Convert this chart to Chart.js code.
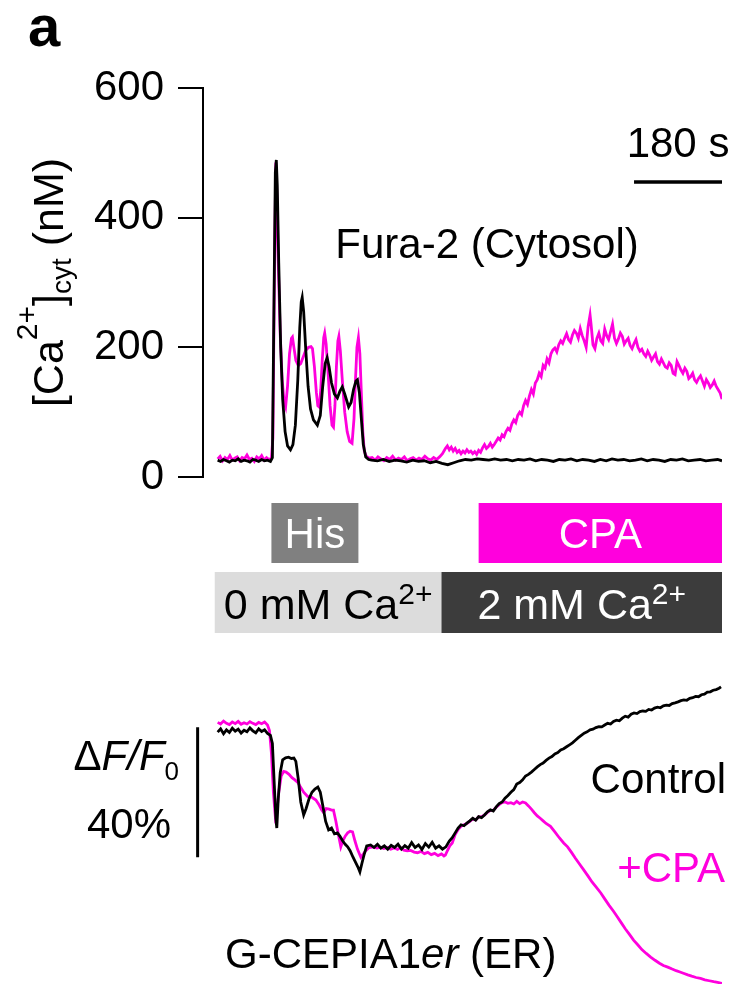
<!DOCTYPE html>
<html><head><meta charset="utf-8">
<script src="https://cdn.jsdelivr.net/npm/chart.js@4.4.1/dist/chart.umd.min.js"></script>
<style>
html,body{margin:0;padding:0;background:#fff;width:734px;height:984px;overflow:hidden;}
#cTop{position:absolute;left:0;top:0;}
#cBot{position:absolute;left:0;top:640px;}
</style></head><body>
<canvas id="cTop" width="734" height="640"></canvas>
<canvas id="cBot" width="734" height="344"></canvas>
<script>
// ---------- DATA (time in s) ----------
const yTicks = [0, 200, 400, 600];
const scaleBarSeconds = 180;
const scaleBarPercent = 40;

// Fura-2 cytosolic Ca2+ (nM), control (black)
const furaTimeControl = [0,6,12,18,24,30,36,42,48,54,60,66,72,78,84,90,96,102,108,
 112,115,118,120,122,125,129,133,138,143,149,154,159,164,168,171,173,176,180,185,190,196,204,210,215,220,224,228,233,239,245,250,255,260,268,273,278,283,286,290,294,298,303,309,315,
 327,339,351,363,375,387,399,411,423,435,447,459,471,483,495,507,519,531,543,555,567,579,591,603,615,627,639,651,663,675,687,699,711,723,735,747,759,771,783,795,807,819,831,843,855,867,879,891,903,915,927,939,951,963,975,987,999,1011,1023,1032];
const furaControl = [26,24,27,25,23,26,25,28,24,26,25,23,27,26,24,27,25,26,24,
 30,250,470,489,450,330,200,120,70,48,42,50,80,150,230,270,277,255,200,140,105,88,80,95,140,175,184,170,145,128,122,132,139,128,108,115,135,148,150,130,90,50,31,27,26,
 25,27,24,26,25,23,26,24,25,22,24,21,19,22,25,27,26,28,27,26,28,26,27,25,27,26,28,25,27,26,24,27,26,28,25,27,26,24,27,25,28,26,27,25,26,28,25,27,26,24,27,26,28,25,26,27,25,26,27,25];

// Fura-2 cytosolic Ca2+ (nM), +CPA (magenta)
const furaTimeCPA = [0,5,10,15,20,25,30,35,40,45,50,55,60,65,70,75,80,85,90,95,100,105,110,
 113,116,119,121,124,128,132,136,139,143,147,151,153,156,160,165,170,175,180,186,191,194,198,202,205,208,211,214,217,219,222,226,230,234,237,240,243,246,248,251,255,260,265,270,275,279,282,285,288,291,294,297,300,304,310,
 316,322,328,334,340,346,352,358,364,370,376,382,388,394,400,406,412,418,424,430,436,442,448,454,460,466,470,474,478,482,486,490,494,498,502,506,510,514,518,522,526,530,534,538,542,546,550,554,558,562,566,570,574,578,582,586,590,594,598,602,606,610,614,618,622,626,630,634,638,642,646,650,654,658,662,666,670,674,678,682,686,690,694,698,702,706,710,714,718,722,726,730,734,738,742,746,750,754,758,762,764,768,772,776,780,784,788,792,796,800,804,808,812,816,820,824,828,832,836,840,844,848,852,856,860,864,868,872,876,880,884,888,892,896,900,904,908,912,916,920,924,928,932,936,940,944,948,952,956,960,964,968,972,976,980,984,988,992,996,1000,1004,1008,1012,1016,1020,1024,1028,1032];
const furaCPA = [28,32,25,30,27,33,26,29,31,25,30,28,34,27,29,24,31,28,33,26,30,27,29,
 60,300,485,440,330,220,150,115,108,140,190,214,216,200,180,172,175,185,195,200,201,198,170,130,110,108,135,180,215,222,205,160,110,80,77,110,170,210,217,195,150,100,70,55,52,90,150,200,215,190,130,70,40,32,29,
 30,26,31,28,25,30,27,32,26,29,27,31,25,28,30,26,29,27,32,28,26,30,27,31,36,44,48,42,46,40,44,38,41,36,40,37,42,38,40,36,39,35,41,38,45,50,44,47,52,46,50,55,60,57,65,62,70,75,72,82,88,84,95,100,96,110,118,112,125,135,128,145,150,160,155,172,168,182,176,
 190,196,199,193,204,210,206,214,221,212,
 208,219,226,222,214,229,218,210,200,232,
 250,236,204,198,214,222,210,206,228,218,
 212,224,236,214,206,213,222,217,205,210,
 214,203,198,206,212,200,194,197,190,186,
 194,188,180,185,190,178,174,182,176,170,
 168,176,172,160,158,178,172,165,160,168,
 163,152,155,160,150,146,152,156,148,140,
 150,145,138,142,148,140,135,130,120];

// G-CEPIA1er ER signal (% dF/F0 relative to baseline), control (black)
const erTimeControl = [0,6,12,18,24,30,36,42,48,54,60,66,72,78,84,90,96,102,108,112,116,119,121,124,128,133,139,145,151,156,160,165,170,176,181,187,193,199,205,210,215,221,227,233,239,245,250,256,261,266,271,277,282,287,291,295,300,305,313,320,327,334,341,348,355,362,369,376,383,390,397,404,411,418,425,432,439,446,453,460,467,474,480,486,492,498,504,510,516,522,528,534,540,546,552,558,564,570,576,582,588,594,600,606,612,618,624,630,636,642,648,654,660,666,672,678,684,690,696,702,708,714,720,726,732,738,744,750,756,762,768,774,780,786,792,798,804,810,816,822,828,834,840,846,852,858,864,870,876,882,888,894,900,906,912,918,924,930,936,942,948,954,960,966,972,978,984,990,996,1002,1008,1014,1020,1026,1030];
const erControl = [-1.5,-0.5,-2,-0.8,-1.6,-0.3,-1.2,-0.6,-1.8,-0.9,-1.4,-0.2,-1.1,-1.7,-0.5,-1.3,-0.8,-1.9,-2.5,-5,-18,-28,-31,-22,-14,-10,-9.4,-9.2,-9.6,-9.5,-10.5,-16,-23,-27,-25,-22,-20,-19,-18.4,-20,-24,-29,-31.6,-31,-32.8,-32.5,-33.5,-35,-36,-36.8,-38,-40,-41.5,-43,-44.5,-42,-39,-36.5,-36.2,-37,-36,-37.2,-36.5,-37.5,-36.3,-37,-36,-37.5,-36.4,-37.2,-35.5,-37,-36.2,-37.6,-35.8,-36.9,-35.4,-37.2,-36.5,-37.5,-36.8,-35,-34,-32.5,-31,-30,-30.3,-29.5,-28.8,-28,-28.6,-27.5,-27.8,-27,-26,-25.4,-25.8,-24.5,-23.5,-23,-21.8,-21,-20,-19.2,-17.5,-17,-16.2,-15,-14.5,-13.8,-13,-12.2,-11.5,-11,-10.2,-9.5,-9,-8.2,-7.8,-7,-6.6,-6,-5.4,-4.8,-4,-3.2,-2.5,-1.8,-1.4,-0.8,-0.6,-0.1,0.2,0.1,0.7,1.2,1.0,1.8,2.2,2.0,2.8,3.4,3.1,4.0,4.4,4.2,4.8,5.0,4.9,5.5,5.3,5.9,6.2,6.0,6.6,6.8,6.7,7.3,7.5,7.8,8.2,8.4,8.3,8.9,9.1,9.5,9.4,10.0,10.2,10.8,10.9,11.4,11.6,12.0,12.4];

// G-CEPIA1er ER signal, +CPA (magenta)
const erTimeCPA = [0,6,12,18,24,30,36,42,48,54,60,66,72,78,84,90,96,102,106,110,114,118,121,125,130,135,140,146,152,158,164,170,176,184,192,201,208,213,217,222,228,233,237,242,247,252,256,261,266,271,276,281,286,293,298,303,310,319,326,333,340,347,354,361,368,374,381,388,395,402,409,416,423,430,437,444,451,458,463,466,470,475,480,486,492,498,504,510,516,522,528,534,540,546,552,558,564,570,576,582,588,594,600,606,612,618,624,630,636,642,648,654,660,666,672,681,690,699,708,716,724,732,740,749,758,766,775,784,792,801,810,818,826,834,843,851,860,868,877,886,895,904,912,921,930,938,946,953,962,970,979,988,997,1006,1015,1023,1032];
const erCPA = [1.5,1.0,1.9,1.2,0.8,1.6,1.1,1.8,0.9,1.4,1.0,1.7,1.2,0.8,1.5,1.1,1.6,0.7,-1,-8,-20,-27.5,-26,-20,-15,-13.6,-13.8,-14.5,-15.5,-16.2,-17,-18.5,-20,-21.3,-21.5,-22.4,-24,-25.5,-26.3,-25,-25.2,-25.5,-25.5,-29,-33,-36.8,-35,-33.5,-32.5,-32,-32.2,-35,-37.5,-40,-39,-38,-37,-36.8,-37.2,-36.9,-37.3,-37,-37.5,-37.1,-37.6,-37,-37.8,-38,-37.9,-38.4,-38.6,-38.2,-38.9,-38.5,-39.2,-38.8,-39.5,-39,-39.6,-39.3,-38,-36.5,-35.6,-33,-31.5,-30.5,-30,-29.6,-29,-28.2,-28.5,-27.6,-27.5,-27,-26.2,-25.6,-25.5,-24.6,-23.8,-23.2,-23,-23.4,-23.2,-23.6,-22.8,-23.5,-23,-23.3,-24.2,-25.2,-26.3,-27.3,-28,-28.8,-29.6,-30.5,-32.2,-34,-35.6,-36.8,-38.5,-40.3,-42,-43.9,-45.8,-47.6,-49.3,-51,-52.8,-54.8,-56.6,-58.4,-60.2,-62,-63.8,-65.5,-67,-68.4,-69.6,-70.7,-71.7,-72.6,-73.3,-73.8,-74.4,-74.9,-75.3,-75.7,-76.2,-76.6,-77,-77.3,-77.7,-78,-78.3,-78.5,-78.8];

// Treatment periods (s)
const hisPeriod = [110, 288];
const cpaPeriod = [534, 1032];
const ca0Period = [-6, 458];
const ca2Period = [458, 1032];

// ---------- STYLE ----------
const FONT = '"Liberation Sans", Arial, Helvetica, sans-serif';
const MAG = '#ff00dd';
Chart.defaults.font.family = FONT;
const pts = (t, v) => t.map((tt, i) => ({x: tt, y: v[i]}));

function drawRich(ctx, parts, x, y, align) {
  let w = 0;
  parts.forEach(p => { ctx.font = `${p.style||''} ${p.size}px ${FONT}`; p.w = ctx.measureText(p.t).width; w += p.w; });
  let cx = align === 'center' ? x - w/2 : align === 'right' ? x - w : x;
  ctx.textAlign = 'left'; ctx.textBaseline = 'alphabetic';
  parts.forEach(p => {
    ctx.font = `${p.style||''} ${p.size}px ${FONT}`;
    ctx.fillStyle = p.color || '#000';
    ctx.fillText(p.t, cx, y + (p.dy||0));
    cx += p.w;
  });
}

const topDecor = {
  id: 'topDecor',
  afterDraw(chart) {
    const {ctx, scales: {x, y}} = chart;
    ctx.save();
    ctx.fillStyle = '#000'; ctx.font = `bold 58px ${FONT}`; ctx.textAlign = 'left'; ctx.textBaseline = 'alphabetic';
    ctx.fillText('a', 28, 46);
    const xb1 = x.getPixelForValue(x.max), xb0 = x.getPixelForValue(x.max - scaleBarSeconds);
    ctx.strokeStyle = '#000'; ctx.lineWidth = 3.5; ctx.lineCap = 'butt';
    ctx.beginPath(); ctx.moveTo(xb0, 182); ctx.lineTo(xb1, 182); ctx.stroke();
    drawRich(ctx, [{t: scaleBarSeconds + ' s', size: 42}], (xb0 + xb1)/2, 157, 'center');
    drawRich(ctx, [{t: 'Fura-2 (Cytosol)', size: 42}], 487, 258, 'center');
    ctx.save();
    ctx.translate(63, (y.top + y.bottom)/2);
    ctx.rotate(-Math.PI/2);
    drawRich(ctx, [
      {t: '[Ca', size: 43}, {t: '2+', size: 30, dy: -26}, {t: ']', size: 43},
      {t: 'cyt', size: 28, dy: 8}, {t: ' (nM)', size: 43}
    ], 0, 0, 'center');
    ctx.restore();
    const box = (per, y0, y1, fill) => {
      const a = x.getPixelForValue(per[0]), b = x.getPixelForValue(per[1]);
      ctx.fillStyle = fill; ctx.fillRect(a, y0, b - a, y1 - y0);
      return (a + b)/2;
    };
    let c = box(hisPeriod, 503, 563, '#808080');
    drawRich(ctx, [{t: 'His', size: 42, color: '#fff'}], c, 548, 'center');
    c = box(cpaPeriod, 503, 563, MAG);
    drawRich(ctx, [{t: 'CPA', size: 42, color: '#fff'}], c, 548, 'center');
    c = box(ca0Period, 572, 633, '#dcdcdc');
    drawRich(ctx, [{t: '0 mM Ca', size: 43, color: '#000'}, {t: '2+', size: 30, dy: -15, color: '#000'}], c, 619, 'center');
    c = box(ca2Period, 572, 633, '#3c3c3c');
    drawRich(ctx, [{t: '2 mM Ca', size: 43, color: '#fff'}, {t: '2+', size: 30, dy: -15, color: '#fff'}], c, 619, 'center');
    ctx.restore();
  }
};

const botDecor = {
  id: 'botDecor',
  afterDraw(chart) {
    const {ctx, scales: {x, y}} = chart;
    ctx.save();
    const bx = x.getPixelForValue(-41);
    ctx.strokeStyle = '#000'; ctx.lineWidth = 3;
    ctx.beginPath(); ctx.moveTo(bx, y.getPixelForValue(0)); ctx.lineTo(bx, y.getPixelForValue(-scaleBarPercent)); ctx.stroke();
    drawRich(ctx, [{t: '\u0394', size: 42}, {t: 'F/F', size: 42, style: 'italic'}, {t: '0', size: 26, dy: 10}], 179, 130, 'right');
    drawRich(ctx, [{t: scaleBarPercent + '%', size: 42}], 171, 198, 'right');
    drawRich(ctx, [{t: 'Control', size: 42}], 726, 153, 'right');
    drawRich(ctx, [{t: '+CPA', size: 42, color: MAG}], 725, 242, 'right');
    drawRich(ctx, [{t: 'G-CEPIA1', size: 42}, {t: 'er', size: 42, style: 'italic'}, {t: ' (ER)', size: 42}], 225, 328, 'left');
    ctx.restore();
  }
};

const lineDs = (label, data, color) => ({label, data, borderColor: color, borderWidth: 2.8, pointRadius: 0, tension: 0, fill: false});

new Chart(document.getElementById('cTop'), {
  type: 'line',
  data: {datasets: [
    lineDs('Control', pts(furaTimeControl, furaControl), '#000'),
    lineDs('+CPA', pts(furaTimeCPA, furaCPA), MAG)
  ]},
  options: {
    responsive: false, animation: false,
    layout: {padding: {top: 88, bottom: 163, left: 0, right: 12}},
    plugins: {legend: {display: false}, tooltip: {enabled: false}},
    scales: {
      x: {type: 'linear', min: -30, max: 1032, display: false},
      y: {
        min: 0, max: 600,
        afterFit: s => { s.width = 203; },
        afterBuildTicks: s => { s.ticks = yTicks.map(v => ({value: v})); },
        ticks: {font: {size: 42}, color: '#000', padding: 14},
        grid: {drawOnChartArea: false, drawTicks: true, tickLength: 25, color: '#000', lineWidth: 2},
        border: {display: true, color: '#000', width: 2}
      }
    }
  },
  plugins: [topDecor]
});

new Chart(document.getElementById('cBot'), {
  type: 'line',
  data: {datasets: [
    lineDs('Control', pts(erTimeControl, erControl), '#000'),
    lineDs('+CPA', pts(erTimeCPA, erCPA), MAG)
  ]},
  options: {
    responsive: false, animation: false,
    layout: {padding: {top: 19, bottom: 0, left: 203, right: 12}},
    plugins: {legend: {display: false}, tooltip: {enabled: false}},
    scales: {
      x: {type: 'linear', min: -30, max: 1032, display: false},
      y: {min: -79, max: 21, display: false}
    }
  },
  plugins: [botDecor]
});
</script>
</body></html>
